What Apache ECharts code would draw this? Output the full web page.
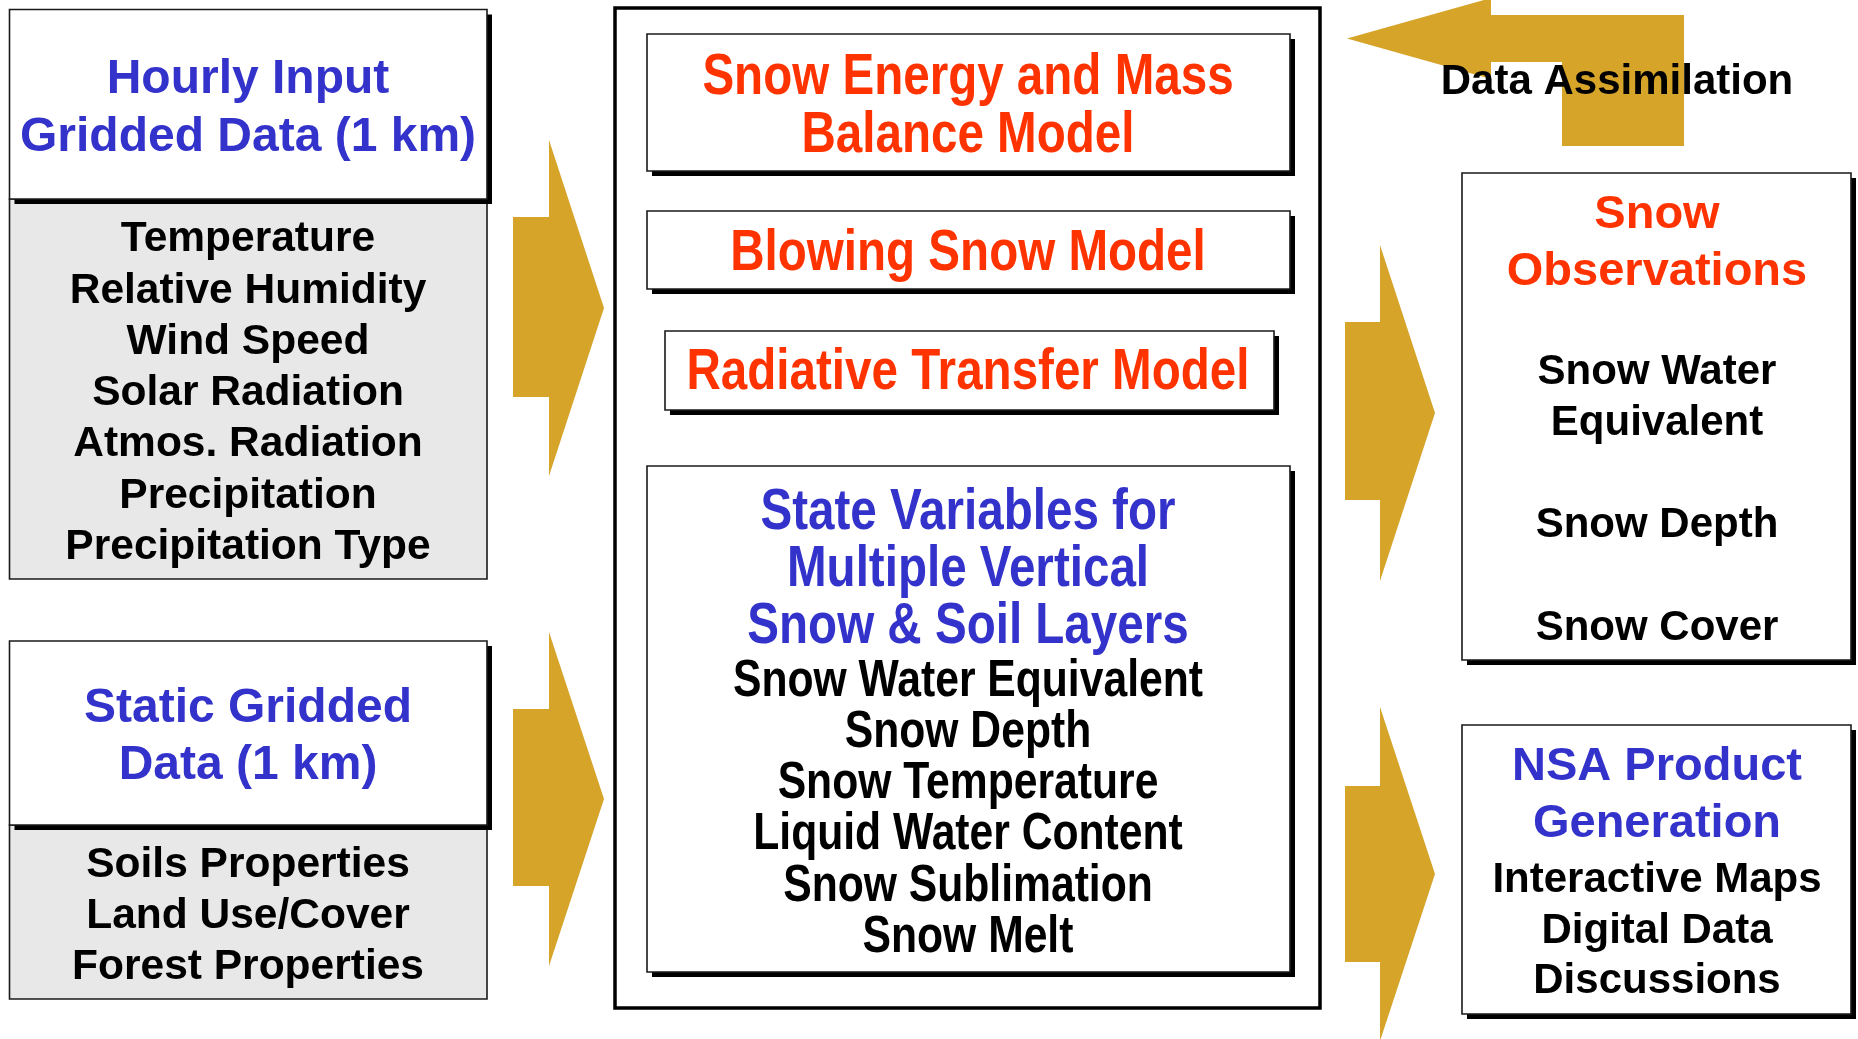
<!DOCTYPE html>
<html>
<head>
<meta charset="utf-8">
<title>Snow model flow</title>
<script src="https://cdn.jsdelivr.net/npm/echarts@6.0.0/dist/echarts.min.js"></script>
<style>
  html, body { margin: 0; padding: 0; background: #fff; }
  #chart { width: 1858px; height: 1039px; }
</style>
</head>
<body>
<div id="chart"></div>
<script>
// texts of the diagram
const hourlyTitle = ['Hourly Input', 'Gridded Data (1 km)'];
const hourlyInputs = ['Temperature', 'Relative Humidity', 'Wind Speed', 'Solar Radiation',
  'Atmos. Radiation', 'Precipitation', 'Precipitation Type'];
const staticTitle = ['Static Gridded', 'Data (1 km)'];
const staticInputs = ['Soils Properties', 'Land Use/Cover', 'Forest Properties'];
const modelNames = [['Snow Energy and Mass', 'Balance Model'], ['Blowing Snow Model'], ['Radiative Transfer Model']];
const stateTitle = ['State Variables for', 'Multiple Vertical', 'Snow & Soil Layers'];
const stateVariables = ['Snow Water Equivalent', 'Snow Depth', 'Snow Temperature',
  'Liquid Water Content', 'Snow Sublimation', 'Snow Melt'];
const obsTitle = ['Snow', 'Observations'];
const observations = ['Snow Water', 'Equivalent', 'Snow Depth', 'Snow Cover'];
const productTitle = ['NSA Product', 'Generation'];
const products = ['Interactive Maps', 'Digital Data', 'Discussions'];
const feedbackLabel = 'Data Assimilation';

const BLUE = '#3333cc';
const RED = '#ff3300';
const GOLD = '#d5a429';
const GRAY = '#e8e8e8';
const FONT = '"Liberation Sans", Arial, Helvetica, sans-serif';

const chart = echarts.init(document.getElementById('chart'));
const els = [];

// box with black drop shadow
function box(x, y, w, h, fill, shadow) {
  if (shadow) {
    els.push({ type: 'rect', shape: { x: x + 5, y: y + 5, width: w, height: h }, style: { fill: '#000' } });
  }
  els.push({
    type: 'rect', shape: { x: x, y: y, width: w, height: h },
    style: { fill: fill, stroke: '#1a1a1a', lineWidth: 1.6 }
  });
}

function text(str, cx, cy, size, color, narrow) {
  els.push({
    type: 'text', x: cx, y: cy + 2.5, scaleX: narrow ? 0.82 : 1,
    style: {
      text: str, fill: color, fontFamily: FONT, fontWeight: 'bold', fontSize: size,
      align: 'center', verticalAlign: 'middle'
    }
  });
}

// right pointing block arrow
function arrow(x0, x1, tip, s0, s1, h0, h1) {
  const m = (h0 + h1) / 2;
  els.push({
    type: 'polygon',
    shape: { points: [[x0, s0], [x1, s0], [x1, h0], [tip, m], [x1, h1], [x1, s1], [x0, s1]] },
    style: { fill: GOLD }
  });
}

// arrows
arrow(513, 549, 604, 217, 397, 140, 476);
arrow(513, 549, 604, 709, 886, 632, 966);
arrow(1345, 1380, 1435, 322, 500, 245, 581);
arrow(1345, 1380, 1435, 786, 962, 707, 1041);

// feedback arrow (bent, pointing left)
els.push({
  type: 'polygon',
  shape: { points: [[1347, 38.5], [1491, -2], [1491, 15], [1684, 15], [1684, 146], [1562, 146], [1562, 62], [1491, 62], [1491, 79]] },
  style: { fill: GOLD }
});
text(feedbackLabel, 1617, 80, 42, '#000');

// left column: hourly input
els.push({ type: 'rect', shape: { x: 9.5, y: 199, width: 477.5, height: 380 }, style: { fill: GRAY, stroke: '#1a1a1a', lineWidth: 1.6 } });
box(9.5, 9.5, 477.5, 189.5, '#fff', true);
hourlyTitle.forEach((t, i) => text(t, 248, 77 + i * 58, 48, BLUE));
hourlyInputs.forEach((t, i) => text(t, 248, 237 + i * 51.3, 42.5, '#000'));

// left column: static data
els.push({ type: 'rect', shape: { x: 9.5, y: 825, width: 477.5, height: 174 }, style: { fill: GRAY, stroke: '#1a1a1a', lineWidth: 1.6 } });
box(9.5, 641, 477.5, 184, '#fff', true);
staticTitle.forEach((t, i) => text(t, 248, 706 + i * 57, 48, BLUE));
staticInputs.forEach((t, i) => text(t, 248, 863 + i * 51, 42.5, '#000'));

// centre frame
els.push({ type: 'rect', shape: { x: 615, y: 8, width: 705, height: 1000 }, style: { fill: 'none', stroke: '#000', lineWidth: 3.5 } });

box(647, 34, 643, 137, '#fff', true);
modelNames[0].forEach((t, i) => text(t, 968, 75 + i * 58, 58, RED, true));
box(647, 211, 643, 78, '#fff', true);
text(modelNames[1][0], 968, 251, 58, RED, true);
box(665, 331, 609, 79, '#fff', true);
text(modelNames[2][0], 968, 370, 58, RED, true);

box(647, 466, 643, 506, '#fff', true);
stateTitle.forEach((t, i) => text(t, 968, 510 + i * 57, 58, BLUE, true));
stateVariables.forEach((t, i) => text(t, 968, 679 + i * 51.2, 52, '#000', true));

// right column
box(1462, 173, 389, 487, '#fff', true);
text(obsTitle[0], 1657, 213, 47, RED);
text(obsTitle[1], 1657, 270, 47, RED);
[370, 421, 523, 626].forEach((y, i) => text(observations[i], 1657, y, 42, '#000'));

box(1462, 725, 389, 289, '#fff', true);
productTitle.forEach((t, i) => text(t, 1657, 765 + i * 57, 47, BLUE));
products.forEach((t, i) => text(t, 1657, 878 + i * 50.5, 42, '#000'));

chart.setOption({
  backgroundColor: '#fff',
  animation: false,
  graphic: { elements: els }
});
</script>
</body>
</html>
